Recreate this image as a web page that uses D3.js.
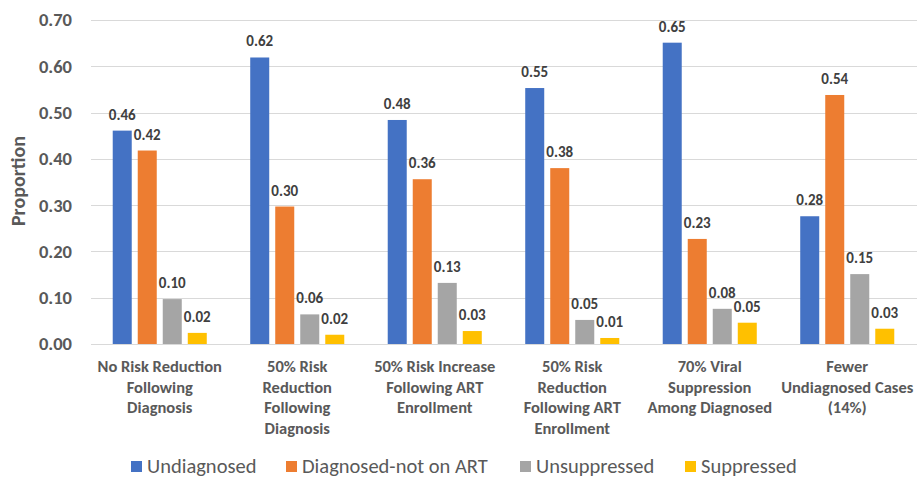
<!DOCTYPE html>
<html>
<head>
<meta charset="utf-8">
<script src="https://cdn.jsdelivr.net/npm/d3@7/dist/d3.min.js"></script>
<style>
  html, body { margin: 0; padding: 0; background: #fff; }
  svg { display: block; font-family: Carlito, Lato, "Open Sans", sans-serif; }
</style>
</head>
<body>
<svg id="chart" width="919" height="478"></svg>
<script>
const categories = [
  "No Risk Reduction\nFollowing\nDiagnosis",
  "50% Risk\nReduction\nFollowing\nDiagnosis",
  "50% Risk Increase\nFollowing ART\nEnrollment",
  "50% Risk\nReduction\nFollowing ART\nEnrollment",
  "70% Viral\nSuppression\nAmong Diagnosed",
  "Fewer\nUndiagnosed Cases\n(14%)"
];
const seriesNames = ["Undiagnosed", "Diagnosed-not on ART", "Unsuppressed", "Suppressed"];
const undiagnosed = [0.461, 0.619, 0.484, 0.553, 0.651, 0.276];
const diagnosedNotOnART = [0.418, 0.297, 0.356, 0.380, 0.227, 0.538];
const unsuppressed = [0.097, 0.064, 0.132, 0.052, 0.076, 0.151];
const suppressed = [0.024, 0.020, 0.028, 0.013, 0.046, 0.033];
const yTicks = [0, 0.1, 0.2, 0.3, 0.4, 0.5, 0.6, 0.7];
const colors = ["#4472C4", "#ED7D31", "#A5A5A5", "#FFC000"];

const seriesValues = [undiagnosed, diagnosedNotOnART, unsuppressed, suppressed];

const svg = d3.select("#chart");
const plotLeft = 91, plotRight = 917, plotTop = 20, plotBottom = 344;

const x0 = d3.scaleBand().domain(d3.range(categories.length)).range([plotLeft, plotRight - 1])
  .paddingInner(0.316).paddingOuter(0.158);
const x1 = d3.scaleBand().domain(d3.range(seriesNames.length)).range([0, x0.bandwidth()])
  .paddingInner(0.24).paddingOuter(0);
const y = d3.scaleLinear().domain([0, 0.7]).range([plotBottom, plotTop]);

// gridlines
svg.append("g").selectAll("line").data(yTicks).join("line")
  .attr("x1", plotLeft).attr("x2", plotRight)
  .attr("y1", d => Math.round(y(d)) + 0.5).attr("y2", d => Math.round(y(d)) + 0.5)
  .attr("stroke", "#D9D9D9").attr("stroke-width", 1);

// y axis labels
const yAxis = d3.axisLeft(y).tickValues(yTicks).tickFormat(d3.format(".2f")).tickSize(0).tickPadding(0);
const yg = svg.append("g").attr("transform", `translate(72,0)`).call(yAxis);
yg.select(".domain").remove();
yg.selectAll("text").attr("fill", "#595959").attr("font-size", 18.5).attr("font-weight", "bold")
  .attr("font-family", "Carlito, Lato, sans-serif");

// y title
svg.append("text").attr("transform", `translate(25,181) rotate(-90)`)
  .attr("text-anchor", "middle").attr("fill", "#595959").attr("font-size", 20)
  .attr("font-weight", "bold").text("Proportion");

// bars
const groups = svg.append("g").selectAll("g").data(categories.map((c, i) => i)).join("g")
  .attr("transform", i => `translate(${x0(i)},0)`);

groups.selectAll("rect").data(i => seriesValues.map((s, j) => ({ j, v: s[i] }))).join("rect")
  .attr("x", d => x1(d.j)).attr("width", x1.bandwidth())
  .attr("y", d => y(d.v)).attr("height", d => y(0) - y(d.v))
  .attr("fill", d => colors[d.j]);

groups.selectAll("text.val").data(i => seriesValues.map((s, j) => ({ j, v: s[i] }))).join("text")
  .attr("class", "val")
  .attr("x", d => x1(d.j) + x1.bandwidth() / 2)
  .attr("y", d => y(d.v) - 11)
  .attr("text-anchor", "middle").attr("fill", "#404040")
  .attr("font-size", 15).attr("font-weight", "bold")
  .text(d => d3.format(".2f")(d.v));

// category labels
const xAxis = d3.axisBottom(x0).tickSize(0).tickFormat(() => "");
svg.append("g").attr("transform", `translate(0,${plotBottom})`).call(xAxis).select(".domain").remove();

const catG = svg.append("g");
categories.forEach((c, i) => {
  const t = catG.append("text")
    .attr("x", x0(i) + x0.bandwidth() / 2)
    .attr("text-anchor", "middle").attr("fill", "#595959")
    .attr("font-size", 16.5).attr("font-weight", "bold");
  c.split("\n").forEach((line, k) => {
    t.append("tspan").attr("x", x0(i) + x0.bandwidth() / 2)
      .attr("y", 372 + k * 20.7).text(line);
  });
});

// legend
const legendX = [131, 286, 520, 685];
const lg = svg.append("g");
seriesNames.forEach((n, i) => {
  lg.append("rect").attr("x", legendX[i]).attr("y", 461).attr("width", 11).attr("height", 11)
    .attr("fill", colors[i]);
  lg.append("text").attr("x", legendX[i] + 16).attr("y", 473)
    .attr("fill", "#595959").attr("font-size", 20.5).text(n);
});
</script>
</body>
</html>
